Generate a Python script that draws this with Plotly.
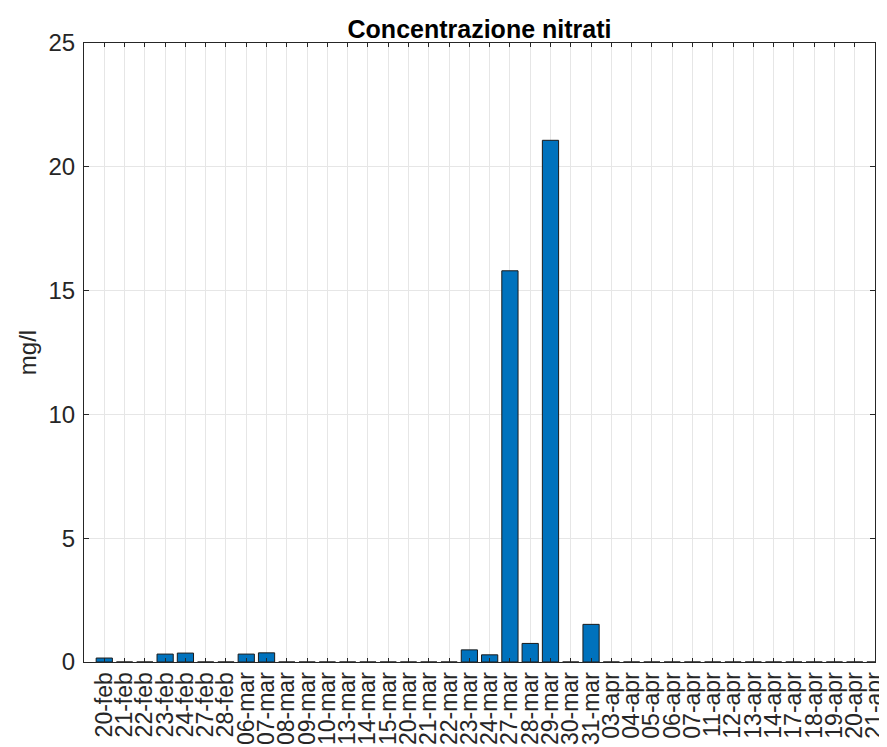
import plotly.graph_objects as go

# sampling dates and nitrate concentration (mg/l)
dates = ['20-feb', '21-feb', '22-feb', '23-feb', '24-feb', '27-feb', '28-feb',
         '06-mar', '07-mar', '08-mar', '09-mar', '10-mar', '13-mar', '14-mar',
         '15-mar', '20-mar', '21-mar', '22-mar', '23-mar', '24-mar', '27-mar',
         '28-mar', '29-mar', '30-mar', '31-mar', '03-apr', '04-apr', '05-apr',
         '06-apr', '07-apr', '11-apr', '12-apr', '13-apr', '14-apr', '17-apr',
         '18-apr', '19-apr', '20-apr', '21-apr']
nitrati = [0.16, 0, 0, 0.32, 0.36, 0, 0,
           0.32, 0.37, 0, 0, 0, 0, 0,
           0, 0, 0, 0, 0.49, 0.29, 15.8,
           0.75, 21.07, 0, 1.52, 0, 0, 0,
           0, 0, 0, 0, 0, 0, 0,
           0, 0, 0, 0]
y_ticks = [0, 5, 10, 15, 20, 25]

font_fam = "Liberation Sans, Arial, Helvetica, sans-serif"
axcol = "#262626"

fig = go.Figure(go.Bar(
    x=dates, y=nitrati, width=0.8,
    marker=dict(color="#0072BD", line=dict(color="#1a1a1a", width=1)),
))

# page body has an 8px margin, so the figure is a bit smaller than the window
fig.update_layout(
    width=879, height=739,
    margin=dict(l=76, r=12, t=35, b=85, pad=0),
    plot_bgcolor="white", paper_bgcolor="white",
    showlegend=False,
    font=dict(family=font_fam, color=axcol),
    title=dict(text="<b>Concentrazione nitrati</b>", x=0.5, xanchor="center",
               xref="paper", y=1, yref="paper", yanchor="bottom", pad=dict(b=5),
               font=dict(size=25, color="black", family=font_fam)),
)
fig.update_xaxes(
    type="category", range=[-1, 38], tickmode="linear", tick0=0, dtick=1,
    tickangle=-90, tickfont=dict(size=23),
    ticks="inside", ticklen=4, tickcolor=axcol,
    showline=True, linecolor=axcol, linewidth=1, mirror="ticks",
    showgrid=True, gridcolor="#e6e6e6", gridwidth=1, automargin=False,
)
fig.update_yaxes(
    range=[0, 25], tickvals=y_ticks, tickfont=dict(size=24),
    ticks="inside", ticklen=5, tickcolor=axcol, ticklabelstandoff=3,
    showline=True, linecolor=axcol, linewidth=1, mirror="ticks",
    showgrid=True, gridcolor="#e6e6e6", gridwidth=1, zeroline=False,
    title=dict(text="mg/l", font=dict(size=24), standoff=5), automargin=False,
)

fig.write_html("out.html")
